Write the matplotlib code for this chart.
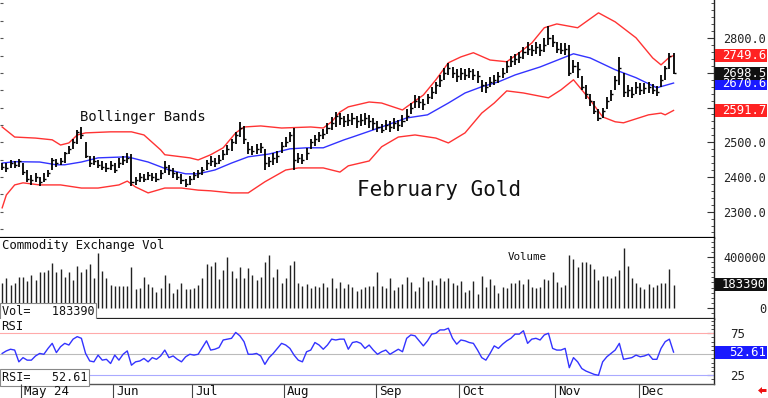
import matplotlib
matplotlib.use("Agg")
import matplotlib.pyplot as plt
import numpy as np
from matplotlib.patches import Rectangle, Polygon
from matplotlib.ticker import MultipleLocator

MONO = "DejaVu Sans Mono"

# daily bars, Feb gold (index 0 = late April 2024)
high = [2440, 2440, 2448, 2445, 2452, 2440, 2420, 2405, 2410, 2400,
        2410, 2420, 2455, 2452, 2455, 2472, 2490, 2510, 2535, 2545,
        2500, 2460, 2460, 2450, 2445, 2440, 2445, 2440, 2455, 2460,
        2468, 2465, 2400, 2410, 2408, 2415, 2412, 2410, 2420, 2445,
        2435, 2425, 2415, 2408, 2395, 2402, 2415, 2420, 2430, 2450,
        2460, 2455, 2462, 2478, 2492, 2510, 2530, 2559, 2548, 2500,
        2490, 2495, 2498, 2480, 2458, 2468, 2475, 2500, 2515, 2530,
        2541, 2468, 2465, 2484, 2510, 2520, 2530, 2538, 2555, 2572,
        2587, 2585, 2575, 2580, 2585, 2575, 2580, 2584, 2578, 2570,
        2560, 2552, 2565, 2562, 2570, 2565, 2578, 2595, 2612, 2637,
        2632, 2625, 2640, 2660, 2675, 2695, 2715, 2728, 2718, 2710,
        2714, 2710, 2714, 2712, 2705, 2680, 2675, 2688, 2695, 2703,
        2715, 2735, 2750, 2755, 2760, 2775, 2789, 2780, 2788, 2782,
        2800, 2835, 2810, 2790, 2785, 2786, 2780, 2737, 2730, 2690,
        2665, 2640, 2620, 2595, 2600, 2630, 2650, 2690, 2745, 2700,
        2665, 2660, 2675, 2670, 2672, 2675, 2668, 2662, 2695, 2720,
        2757, 2757]
low = [2420, 2415, 2425, 2425, 2430, 2405, 2385, 2378, 2385, 2375,
       2385, 2400, 2420, 2430, 2435, 2440, 2465, 2480, 2495, 2510,
       2455, 2430, 2435, 2425, 2420, 2415, 2420, 2410, 2425, 2435,
       2440, 2375, 2378, 2385, 2385, 2390, 2388, 2385, 2395, 2410,
       2405, 2398, 2390, 2380, 2370, 2378, 2390, 2398, 2405, 2420,
       2432, 2430, 2438, 2448, 2462, 2475, 2495, 2515, 2495, 2465,
       2462, 2465, 2470, 2420, 2428, 2435, 2440, 2470, 2485, 2500,
       2420, 2440, 2438, 2450, 2480, 2490, 2500, 2510, 2525, 2535,
       2545, 2550, 2545, 2548, 2550, 2542, 2548, 2550, 2540, 2535,
       2530, 2527, 2535, 2530, 2538, 2532, 2545, 2560, 2580, 2600,
       2598, 2593, 2610, 2625, 2640, 2660, 2680, 2695, 2685, 2675,
       2680, 2678, 2685, 2680, 2672, 2645, 2642, 2660, 2665, 2672,
       2685, 2700, 2717, 2722, 2728, 2740, 2752, 2750, 2755, 2750,
       2760, 2780, 2775, 2757, 2755, 2752, 2690, 2700, 2685, 2650,
       2625, 2605, 2580, 2562, 2570, 2595, 2620, 2650, 2665, 2630,
       2630, 2628, 2640, 2635, 2640, 2642, 2638, 2634, 2660, 2680,
       2712, 2697]
close = [2430, 2425, 2440, 2435, 2445, 2415, 2395, 2390, 2400, 2385,
         2395, 2410, 2450, 2440, 2445, 2470, 2480, 2500, 2530, 2520,
         2460, 2440, 2445, 2435, 2430, 2425, 2435, 2420, 2440, 2450,
         2455, 2385, 2390, 2400, 2395, 2405, 2400, 2395, 2410, 2430,
         2420, 2410, 2400, 2390, 2380, 2395, 2405, 2410, 2420, 2440,
         2445, 2440, 2450, 2465, 2480, 2500, 2520, 2540, 2510, 2480,
         2475, 2480, 2485, 2440, 2445, 2455, 2460, 2490, 2500, 2520,
         2450, 2455, 2450, 2470, 2500, 2510, 2520, 2525, 2540, 2555,
         2575, 2570, 2560, 2565, 2570, 2560, 2565, 2570, 2560, 2555,
         2545, 2535, 2550, 2545, 2555, 2550, 2560, 2575, 2600, 2620,
         2615, 2610, 2630, 2645, 2665, 2680, 2700, 2715, 2700, 2690,
         2700, 2695, 2705, 2695, 2690, 2665, 2660, 2675, 2680, 2690,
         2700, 2720, 2735, 2740, 2745, 2760, 2770, 2765, 2775, 2765,
         2780, 2800, 2790, 2770, 2765, 2770, 2700, 2720, 2710, 2660,
         2640, 2620, 2590, 2570, 2590, 2620, 2640, 2680, 2715, 2645,
         2650, 2640, 2660, 2650, 2655, 2660, 2650, 2645, 2680, 2715,
         2750, 2698.5]

upper_idx = [0, 3, 8, 12, 14, 16, 18, 20, 26, 31, 34, 38, 39, 45, 47, 50,
             53, 56, 58, 62, 67, 74, 77, 79, 81, 83, 88, 91, 96, 97, 101,
             104, 107, 110, 113, 117, 121, 124, 127, 130, 133, 138, 143,
             147, 152, 156, 158, 160, 161]
upper_val = [2544, 2515, 2512, 2507, 2492, 2498, 2521, 2527, 2530, 2530,
             2521, 2478, 2464, 2455, 2449, 2464, 2484, 2527, 2544, 2547,
             2541, 2544, 2541, 2559, 2587, 2602, 2616, 2613, 2593, 2602,
             2636, 2680, 2729, 2746, 2758, 2737, 2732, 2758, 2786, 2830,
             2841, 2830, 2873, 2847, 2801, 2743, 2723, 2745, 2749.6]
mid_idx = [0, 3, 9, 13, 15, 19, 23, 30, 35, 40, 44, 47, 51, 55, 59, 64,
           69, 73, 77, 82, 84, 91, 97, 102, 107, 111, 115, 119, 123, 129,
           137, 141, 147, 152, 157, 161]
mid_val = [2440, 2444, 2443, 2435, 2435, 2443, 2455, 2458, 2443, 2420,
           2409, 2409, 2420, 2440, 2458, 2466, 2481, 2484, 2484, 2507,
           2515, 2544, 2570, 2579, 2613, 2642, 2660, 2674, 2694, 2717,
           2755, 2743, 2709, 2686, 2657, 2670.6]
lower_idx = [0, 1, 3, 5, 9, 14, 19, 23, 28, 30, 32, 35, 39, 43, 47, 50,
             55, 59, 63, 68, 71, 77, 81, 83, 88, 91, 95, 99, 104, 107, 111,
             115, 118, 121, 125, 131, 134, 137, 141, 144, 147, 149, 155,
             158, 159, 161]
lower_val = [2311, 2348, 2377, 2383, 2377, 2377, 2368, 2368, 2377, 2388,
             2371, 2354, 2368, 2368, 2362, 2360, 2354, 2354, 2386, 2420,
             2426, 2426, 2414, 2432, 2446, 2487, 2515, 2521, 2512, 2498,
             2527, 2584, 2613, 2648, 2642, 2628, 2651, 2680, 2622, 2573,
             2559, 2556, 2579, 2584, 2579, 2591.7]

# volume in thousands of contracts
vol_k = [193, 238, 180, 193, 246, 246, 212, 259, 220, 281,
         281, 299, 352, 281, 307, 246, 281, 220, 334, 281,
         307, 344, 233, 431, 291, 233, 180, 172, 172, 172,
         172, 320, 148, 154, 241, 185, 167, 127, 154, 259,
         193, 114, 146, 193, 146, 148, 159, 180, 233, 344,
         331, 360, 225, 299, 405, 294, 233, 320, 233, 318,
         259, 220, 246, 365, 418, 241, 304, 193, 238, 339,
         373, 193, 175, 185, 159, 175, 167, 193, 167, 238,
         154, 207, 159, 185, 167, 132, 148, 167, 175, 175,
         286, 175,
         154, 238, 140, 167, 185, 246, 207, 132, 167, 246,
         212, 220, 180, 233, 214, 233, 199, 180, 212, 127,
         140, 212, 106, 252, 167, 225, 180, 114, 167, 159,
         193, 193, 220, 185, 228, 167, 154, 167, 228, 220,
         281, 207, 167, 180, 418, 386, 320, 365, 365, 344,
         307, 220, 254, 254, 233, 254, 299, 471, 334, 238,
         193, 167, 148, 185, 167, 180, 193, 193, 304, 183.39]

rsi = [51, 54, 56, 55, 41, 46, 43, 43, 48, 51,
       50, 57, 63, 52, 59, 63, 61, 68, 71, 69,
       51, 42, 41, 49, 43, 44, 39, 49, 43, 50,
       54, 37, 41, 42, 45, 41, 46, 44, 48, 55,
       46, 48, 44, 41, 47, 50, 49, 50, 58, 66,
       55, 56, 58, 67, 68, 69, 76, 72, 65, 50,
       50, 51, 48, 38, 46, 51, 57, 63, 61, 57,
       49, 43, 41, 53, 55, 64, 61, 56, 61, 68,
       67, 68, 68, 56, 64, 65, 63, 57, 61, 55,
       50, 53,
       55, 50, 53, 56, 53, 69, 73, 72, 66, 60,
       66, 74, 75, 79, 79, 81, 69, 62, 67, 66,
       64, 63, 55, 46, 43, 51, 60, 57, 62, 66,
       69, 74, 74, 78, 63, 68, 69, 67, 73, 75,
       57, 55, 55, 57, 34, 46, 41, 33, 30, 28,
       26, 25, 41, 47, 51, 55, 63, 44, 45, 46,
       49, 47, 48, 50, 44, 44, 57, 65, 68, 52.61]

month_labels = ["May 24", "Jun", "Jul", "Aug", "Sep", "Oct", "Nov", "Dec"]
month_idx = [5, 27, 46, 68, 90, 110, 133, 153]

price_ticks = [2300, 2400, 2500, 2600, 2700, 2800]
# 2700.0 sits fully behind the close/mid boxes in the original
price_tick_labels = ["2300.0", "2400.0", "2500.0", "2600.0", "", "2800.0"]

W, H = 768, 398
fig = plt.figure(figsize=(W / 100, H / 100), dpi=100)
fig.patch.set_facecolor("white")


def px_rect(x0, y0, x1, y1):
    return [x0 / W, 1 - y1 / H, (x1 - x0) / W, (y1 - y0) / H]


def style_panel(ax, bottom_color="black", bottom_lw=1.6):
    ax.set_xlim(-0.52, 170.7)
    ax.spines["left"].set_visible(False)
    ax.spines["top"].set_visible(False)
    ax.spines["right"].set_color("#222222")
    ax.spines["right"].set_linewidth(1.0)
    ax.spines["bottom"].set_color(bottom_color)
    ax.spines["bottom"].set_linewidth(bottom_lw)
    ax.set_xticks([])
    ax.yaxis.tick_right()
    ax.tick_params(axis="y", which="both", direction="in", colors="#333333",
                   labelcolor="#222222", labelsize=8.6, labelfontfamily=MONO)
    ax.tick_params(axis="y", which="major", length=5, width=0.8)
    ax.tick_params(axis="y", which="minor", length=2.5, width=0.6)


def value_box(ax, value, text, face, size=8.8):
    ypx = ax.transData.transform((0, value))[1]
    fig.add_artist(Rectangle((715 / W, (ypx - 6.5) / H), 52 / W, 13 / H,
                             transform=fig.transFigure, facecolor=face,
                             edgecolor="none", zorder=5))
    fig.text(766 / W, ypx / H, text, ha="right", va="center", color="white",
             fontsize=size, family=MONO, zorder=6)


idx = np.arange(len(close))

# ---- price panel
ax_p = fig.add_axes(px_rect(0, 0, 714, 238))
style_panel(ax_p)
ax_p.set_ylim(2224, 2910)
ax_p.plot(upper_idx, upper_val, color="#ff3333", lw=1.0)
ax_p.plot(lower_idx, lower_val, color="#ff3333", lw=1.0)
ax_p.plot(mid_idx, mid_val, color="#3333ff", lw=1.0)
ax_p.vlines(idx, low, high, color="black", lw=1.3)
ax_p.hlines(close, idx, idx + 0.5, color="black", lw=1.0)
ax_p.set_yticks(price_ticks, labels=price_tick_labels)
ax_p.yaxis.set_minor_locator(MultipleLocator(20))
ax_p.tick_params(axis="y", which="major", pad=37.4)
for t in ax_p.get_yticklabels():
    t.set_ha("right")
left = ax_p.secondary_yaxis("left")
left.yaxis.set_major_locator(MultipleLocator(50))
left.tick_params(direction="in", length=2.5, width=0.8, colors="#555555",
                 labelleft=False)
left.spines["left"].set_visible(False)

ax_p.text(80 / 714, (238 - 117) / 238, "Bollinger Bands", transform=ax_p.transAxes,
          va="center", fontsize=10, family=MONO, color="#111111")
ax_p.text(357 / 714, (238 - 190) / 238, "February Gold", transform=ax_p.transAxes,
          va="center", fontsize=15, family=MONO, color="#111111")

# ---- volume panel
ax_v = fig.add_axes(px_rect(0, 238, 714, 319))
style_panel(ax_v, bottom_color="#222222", bottom_lw=1.6)
ax_v.set_ylim(-90, 553)
ax_v.vlines(idx, 0, vol_k, color="#222222", lw=1.0)
ax_v.set_yticks([0, 400], labels=["0", "400000"])
ax_v.yaxis.set_minor_locator(MultipleLocator(40))
ax_v.tick_params(axis="y", which="major", pad=37.4)
for t in ax_v.get_yticklabels():
    t.set_ha("right")
ax_v.text(2 / 714, (319 - 246) / 81, "Commodity Exchange Vol", transform=ax_v.transAxes,
          va="center", fontsize=8.8, family=MONO, color="#111111")
ax_v.text(508 / 714, (319 - 257) / 81, "Volume", transform=ax_v.transAxes,
          va="center", fontsize=7.8, family=MONO, color="#111111")
ax_v.text(2 / 714, (319 - 311.5) / 81, f"Vol=   {vol_k[-1] * 1000:.0f}",
          transform=ax_v.transAxes, va="center", fontsize=8.5, family=MONO,
          color="#111111", zorder=5,
          bbox=dict(boxstyle="square,pad=0.15", fc="white", ec="#888888", lw=0.8))

# ---- RSI panel
ax_r = fig.add_axes(px_rect(0, 319, 714, 384))
style_panel(ax_r, bottom_color="#555555", bottom_lw=1.0)
ax_r.set_ylim(14.6, 92)
ax_r.axhline(75, color="#ffaaaa", lw=0.8)
ax_r.axhline(50, color="#bbbbbb", lw=0.8)
ax_r.axhline(25, color="#aaaaff", lw=0.8)
ax_r.plot(idx, rsi, color="#3333ff", lw=1.0)
ax_r.set_yticks([25, 75], labels=["25", "75"])
ax_r.yaxis.set_minor_locator(MultipleLocator(5))
ax_r.tick_params(axis="y", which="major", pad=11.5, labelsize=9)
ax_r.text(1 / 714, (384 - 327) / 65, "RSI", transform=ax_r.transAxes,
          va="center", fontsize=8.8, family=MONO, color="#111111")
ax_r.text(2 / 714, (384 - 377.5) / 65, f"RSI=   {rsi[-1]:.2f}",
          transform=ax_r.transAxes, va="center", fontsize=8.5, family=MONO,
          color="#111111", zorder=5,
          bbox=dict(boxstyle="square,pad=0.15", fc="white", ec="#888888", lw=0.8))

# ---- date row
ax_d = fig.add_axes(px_rect(0, 384, 714, 398))
ax_d.set_xlim(-0.52, 170.7)
ax_d.set_ylim(0, 1)
ax_d.axis("off")
for m, lab in zip(month_idx, month_labels):
    ax_d.vlines(m - 0.4, 0, 1, color="#444444", lw=0.8)
    ax_d.text(m + 0.3, 0.45, lab, va="center", fontsize=9, family=MONO,
              color="#111111")

# ---- right-hand value boxes
value_box(ax_p, upper_val[-1], f"{upper_val[-1]:.1f}", "#ff2222")
value_box(ax_p, lower_val[-1], f"{lower_val[-1]:.1f}", "#ff2222")
value_box(ax_p, mid_val[-1], f"{mid_val[-1]:.1f}", "#1a1aff")
value_box(ax_p, close[-1], f"{close[-1]:.1f}", "#111111")
value_box(ax_v, vol_k[-1], f"{vol_k[-1] * 1000:.0f}", "#111111")
value_box(ax_r, rsi[-1], f"{rsi[-1]:.2f}", "#1a1aff")

# small red arrow in the corner
arrow = [(758, 7.5), (762, 11), (762, 9), (766.5, 9), (766.5, 6), (762, 6), (762, 4)]
fig.add_artist(Polygon([(x / W, y / H) for x, y in arrow], closed=True,
                       transform=fig.transFigure, facecolor="#ee1111",
                       edgecolor="none"))

fig.savefig("out.png", dpi=100)
